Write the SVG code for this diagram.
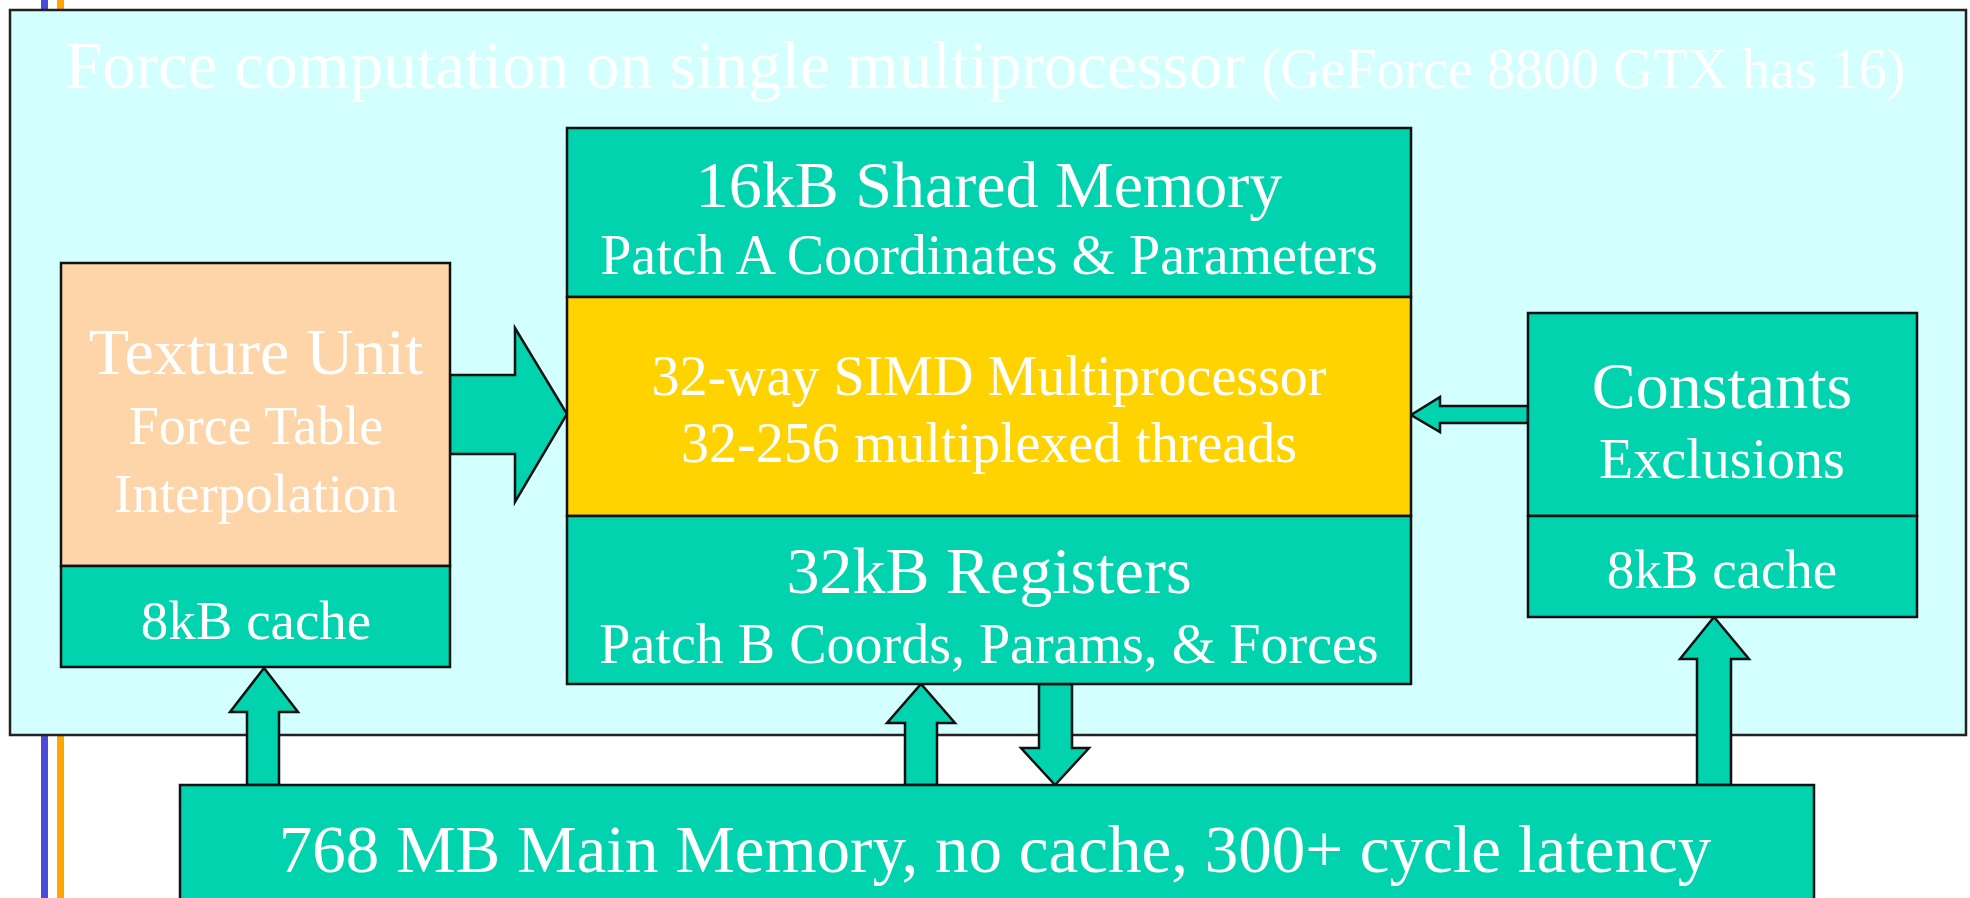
<svg xmlns="http://www.w3.org/2000/svg" width="1970" height="898" viewBox="0 0 1970 898">
  <style>
    .txt { font-family: "Liberation Serif", "Times New Roman", serif; fill: #ffffff; text-anchor: middle; }
    .box { stroke: #111; stroke-width: 2.5; }
    .teal { fill: #00D3AD; }
    .arrow { fill: #00D3AD; stroke: #111; stroke-width: 2.5; stroke-linejoin: miter; }
  </style>

  <!-- side rules -->
  <g id="side-rules">
    <rect x="41" y="0" width="7" height="898" fill="#4A4ADB"/>
    <rect x="57" y="0" width="7" height="898" fill="#FFA500"/>
  </g>

  <!-- multiprocessor frame -->
  <g id="multiprocessor">
    <rect x="10" y="10" width="1956" height="725" fill="#D4FFFF" stroke="#222" stroke-width="2.5"/>
    <text class="txt" x="65" y="88" style="text-anchor:start" font-size="67">Force computation on single multiprocessor <tspan font-size="56">(GeForce 8800 GTX has 16)</tspan></text>
  </g>

  <!-- connectors -->
  <g id="connectors">
    <!-- texture unit to SIMD -->
    <polygon class="arrow" points="450,375 515,375 515,328 567,414 515,502 515,454 450,454"/>
    <!-- constants to SIMD -->
    <polygon class="arrow" points="1528,406 1440,406 1440,397 1411,415 1440,432 1440,423 1528,423"/>
    <!-- main memory to texture cache -->
    <polygon class="arrow" points="247,785 247,712 230,712 264,668 298,712 279,712 279,785"/>
    <!-- main memory to registers -->
    <polygon class="arrow" points="905,785 905,723 887,723 921,684 955,723 937,723 937,785"/>
    <!-- registers to main memory -->
    <polygon class="arrow" points="1039,684 1039,748 1021,748 1055,785 1089,748 1072,748 1072,684"/>
    <!-- main memory to constant cache -->
    <polygon class="arrow" points="1697,785 1697,659 1680,659 1714,617 1749,659 1731,659 1731,785"/>
  </g>

  <!-- texture unit -->
  <g id="texture-unit">
    <rect class="box" x="61" y="263" width="389" height="303" fill="#FDD5A9"/>
    <text class="txt" x="256" y="374" font-size="66">Texture Unit</text>
    <text class="txt" x="256" y="444" font-size="54">Force Table</text>
    <text class="txt" x="256" y="512" font-size="55">Interpolation</text>
  </g>
  <g id="texture-cache">
    <rect class="box teal" x="61" y="566" width="389" height="101"/>
    <text class="txt" x="256" y="639" font-size="55">8kB cache</text>
  </g>

  <!-- shared memory -->
  <g id="shared-memory">
    <rect class="box teal" x="567" y="128" width="844" height="169"/>
    <text class="txt" x="989" y="207" font-size="66">16kB Shared Memory</text>
    <text class="txt" x="989" y="274" font-size="56">Patch A Coordinates &amp; Parameters</text>
  </g>

  <!-- SIMD multiprocessor -->
  <g id="simd">
    <rect class="box" x="567" y="297" width="844" height="219" fill="#FFD300"/>
    <text class="txt" x="989" y="395" font-size="56">32-way SIMD Multiprocessor</text>
    <text class="txt" x="989" y="462" font-size="56">32-256 multiplexed threads</text>
  </g>

  <!-- registers -->
  <g id="registers">
    <rect class="box teal" x="567" y="516" width="844" height="168"/>
    <text class="txt" x="989" y="593" font-size="66">32kB Registers</text>
    <text class="txt" x="989" y="663" font-size="56">Patch B Coords, Params, &amp; Forces</text>
  </g>

  <!-- constants -->
  <g id="constants">
    <rect class="box teal" x="1528" y="313" width="389" height="203"/>
    <text class="txt" x="1722" y="408" font-size="66">Constants</text>
    <text class="txt" x="1722" y="478" font-size="56">Exclusions</text>
  </g>
  <g id="constant-cache">
    <rect class="box teal" x="1528" y="516" width="389" height="101"/>
    <text class="txt" x="1722" y="588" font-size="55">8kB cache</text>
  </g>

  <!-- main memory -->
  <g id="main-memory">
    <rect class="box teal" x="180" y="785" width="1634" height="130"/>
    <text class="txt" x="995" y="872" font-size="67">768 MB Main Memory, no cache, 300+ cycle latency</text>
  </g>
</svg>
